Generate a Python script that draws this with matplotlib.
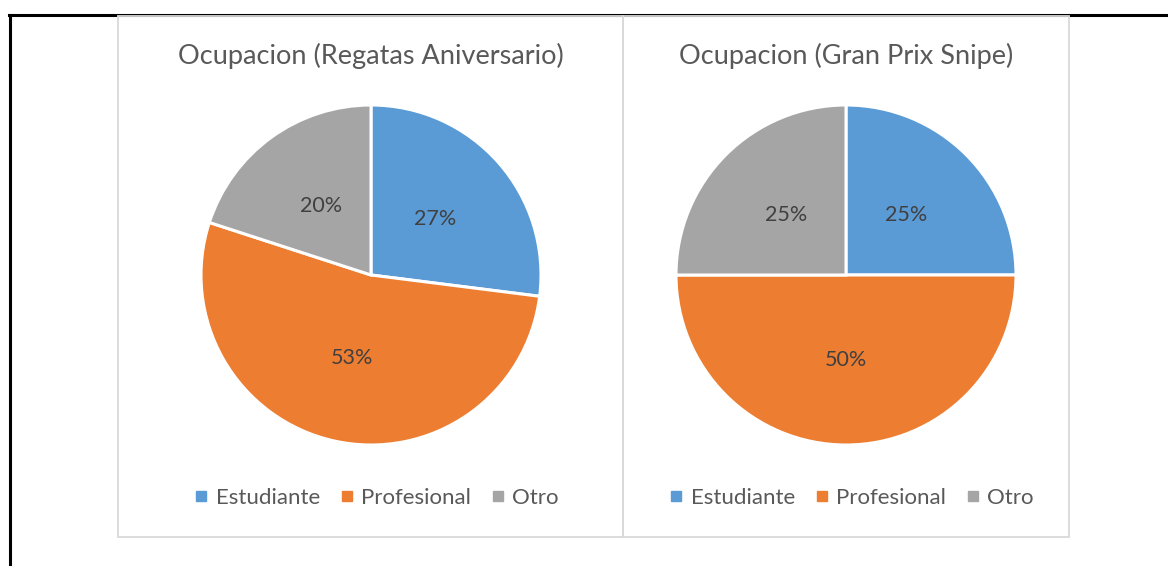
import matplotlib
matplotlib.use("Agg")
import matplotlib.pyplot as plt
from matplotlib.patches import Rectangle
from matplotlib.lines import Line2D

categories = ["Estudiante", "Profesional", "Otro"]
values_regatas = [27, 53, 20]
values_snipe = [25, 50, 25]
titles = ["Ocupacion (Regatas Aniversario)", "Ocupacion (Gran Prix Snipe)"]
colors = ["#5B9BD5", "#ED7D31", "#A5A5A5"]

W, H = 1168, 566
plt.rcParams['font.family'] = ['Lato', 'DejaVu Sans']
fig = plt.figure(figsize=(W / 100, H / 100), dpi=100)
fig.patch.set_facecolor("white")

def fx(x):
    return x / W

def fy(y):
    return 1 - y / H

# outer black lines
fig.add_artist(Line2D([fx(9), fx(1168)], [fy(15), fy(15)], color="black", lw=2.2,
                      transform=fig.transFigure, zorder=-1))
fig.add_artist(Line2D([fx(10), fx(10)], [fy(15), fy(566)], color="black", lw=2.2,
                      transform=fig.transFigure, zorder=-1))

boxes = [(118, 623), (623, 1069)]
for x0, x1 in boxes:
    fig.add_artist(Rectangle((fx(x0), fy(537)), fx(x1 - x0), (537 - 16) / H,
                             transform=fig.transFigure, facecolor="none",
                             edgecolor="#d9d9d9", lw=1.3, zorder=-1))

centers = [371, 846]
R = 170
for cx, vals, title in zip(centers, [values_regatas, values_snipe], titles):
    ax = fig.add_axes([fx(cx - R), fy(275 + R), 2 * R / W, 2 * R / H])
    ax.patch.set_alpha(0)
    wedges, texts, autotexts = ax.pie(vals, colors=colors, startangle=90, counterclock=False,
                                      autopct=lambda p: f"{p:.0f}%", pctdistance=0.5,
                                      wedgeprops=dict(edgecolor="white", linewidth=2.2),
                                      textprops=dict(color="#404040", fontsize=15.5))
    ax.set_xlim(-1.0, 1.0)
    ax.set_ylim(-1.0, 1.0)
    ax.set_aspect("equal")
    ax.axis("off")
    fig.text(fx(cx), fy(56), title, ha="center", va="center", fontsize=19.5, color="#595959")
    handles = [Line2D([], [], marker="s", linestyle="", color=c, markersize=7.5) for c in colors]
    fig.legend(handles, categories, loc="center", bbox_to_anchor=(fx(cx + 5), fy(498)),
               ncol=3, frameon=False, fontsize=16, labelcolor="#595959",
               handlelength=0.7, handletextpad=0.3, columnspacing=0.85)

fig.savefig("out.png", dpi=100, facecolor="white")
